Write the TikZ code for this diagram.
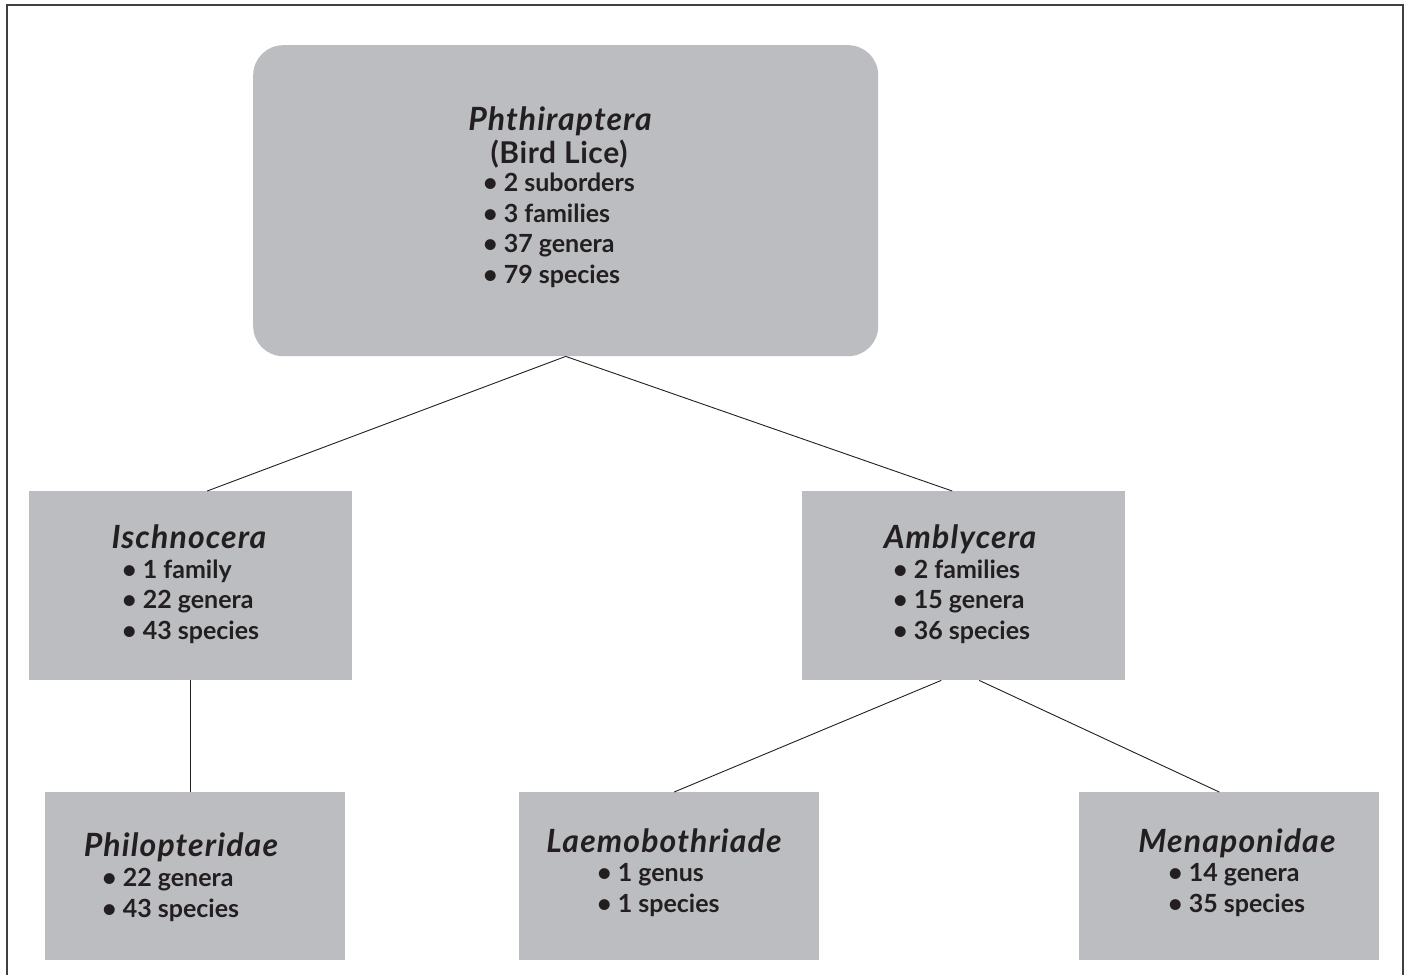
\documentclass[tikz,border=0pt]{standalone}
\usepackage{fontspec}
\setmainfont{Lato}
\newfontfamily\ttlfont[LetterSpace=3.5]{Lato}
\usetikzlibrary{calc}
\definecolor{boxgray}{HTML}{BCBDC0}
\definecolor{inkc}{HTML}{231F20}
\begin{document}
\begin{tikzpicture}[x=1pt,y=-1pt,
  box/.style={fill=boxgray,draw=none,inner sep=0pt,anchor=north west},
  ttl/.style={anchor=base,inner sep=0pt,text=inkc,font=\ttlfont\fontsize{32}{33}\selectfont\bfseries\itshape},
  sub/.style={anchor=base,inner sep=0pt,text=inkc,font=\fontsize{30}{33}\selectfont\bfseries\addfontfeatures{LetterSpace=2}},
  bul/.style={anchor=base west,inner sep=0pt,text=inkc,align=left,font=\fontsize{25}{30.5}\selectfont\bfseries},
  link/.style={draw=inkc,line width=0.9pt}]
\useasboundingbox (0,0) rectangle (1407,974);
\fill[white] (0,0) rectangle (1407,974);
\draw[draw=black!75,line width=1.6pt] (7,980) -- (7,5) -- (1403,5) -- (1403,980);
% boxes
\node[box,minimum width=625pt,minimum height=311pt,rounded corners=30pt] (top) at (253,45) {};
\node[box,minimum width=323pt,minimum height=189pt] (isch) at (29,491) {};
\node[box,minimum width=323pt,minimum height=189pt] (ambl) at (802,491) {};
\node[box,minimum width=300pt,minimum height=168pt] (phil) at (45,792) {};
\node[box,minimum width=300pt,minimum height=168pt] (laem) at (519,792) {};
\node[box,minimum width=300pt,minimum height=168pt] (mena) at (1079,792) {};
% connectors
\draw[link] (top.south) -- ($(isch.north)+(16.5,0)$);
\draw[link] (top.south) -- ($(ambl.north)+(-11.5,0)$);
\draw[link] ($(isch.south)+(-0.5,0)$) -- ($(phil.north)+(-5,0)$);
\draw[link] ($(ambl.south)+(-22.5,0)$) -- ($(laem.north)+(5,0)$);
\draw[link] ($(ambl.south)+(15.5,0)$) -- ($(mena.north)+(-10,0)$);
% texts (bullet blocks are placed by the baseline of their last line)
\node[ttl] (tTop) at (560,130) {Phthiraptera};
\node[sub] (tTopB) at (559,163) {(Bird Lice)};
\node[bul] (bTop) at (483,283) {• 2 suborders\\• 3 families\\• 37 genera\\• 79 species};
\node[ttl] (tIsch) at (189,548) {Ischnocera};
\node[bul] (bIsch) at (122,639) {• 1 family\\• 22 genera\\• 43 species};
\node[ttl] (tAmbl) at (960,548) {Amblycera};
\node[bul] (bAmbl) at (893,639) {• 2 families\\• 15 genera\\• 36 species};
\node[ttl] (tPhil) at (181,856) {Philopteridae};
\node[bul] (bPhil) at (102,917) {• 22 genera\\• 43 species};
\node[ttl] (tLaem) at (664,852) {Laemobothriade};
\node[bul] (bLaem) at (597,912) {• 1 genus\\• 1 species};
\node[ttl] (tMena) at (1237,852) {Menaponidae};
\node[bul] (bMena) at (1168,912) {• 14 genera\\• 35 species};
\end{tikzpicture}
\end{document}
